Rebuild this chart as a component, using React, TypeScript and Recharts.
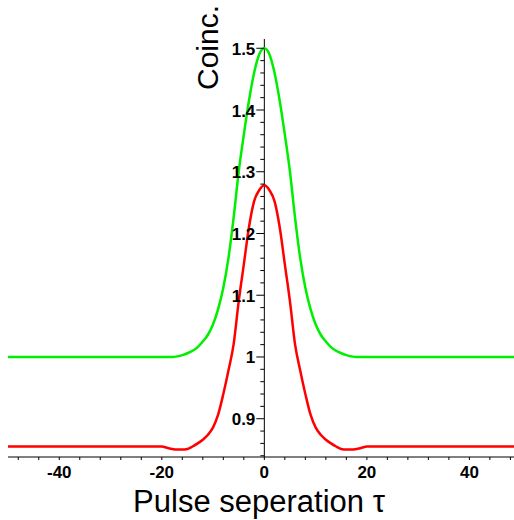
import React from 'react';
import { LineChart, Line, XAxis, YAxis, ReferenceLine, ReferenceDot } from 'recharts';

// Pulse separation values (x)
const tau = [
  -50, -20, -19, -18, -17, -16, -15, -14, -13, -12, -11, -10, -9, -8, -7, -6, -5, -4, -3, -2, -1,
  0, 1, 2, 3, 4, 5, 6, 7, 8, 9, 10, 11, 12, 13, 14, 15, 16, 17, 18, 19, 20, 50,
];

// Green curve (coincidences)
const greenCoinc = [
  1.0, 1.0, 1.0, 1.0, 1.001, 1.003, 1.006, 1.01, 1.016, 1.025, 1.036, 1.053, 1.078, 1.112, 1.16, 1.225, 1.3, 1.36, 1.415, 1.46, 1.49,
  1.5, 1.49, 1.46, 1.415, 1.36, 1.3, 1.225, 1.16, 1.112, 1.078, 1.053, 1.036, 1.025, 1.016, 1.01, 1.006, 1.003, 1.001, 1.0, 1.0, 1.0, 1.0,
];

// Red curve (coincidences)
const redCoinc = [
  0.855, 0.855, 0.853, 0.851, 0.85, 0.85, 0.851, 0.855, 0.86, 0.866, 0.874, 0.886, 0.907, 0.94, 0.978, 1.02, 1.09, 1.15, 1.21, 1.252, 1.27,
  1.278, 1.27, 1.252, 1.21, 1.15, 1.09, 1.02, 0.978, 0.94, 0.907, 0.886, 0.874, 0.866, 0.86, 0.855, 0.851, 0.85, 0.85, 0.851, 0.853, 0.855, 0.855,
];

const xTicks = [-48, -44, -40, -36, -32, -28, -24, -20, -16, -12, -8, -4, 0, 4, 8, 12, 16, 20, 24, 28, 32, 36, 40, 44, 48];
const xTickLabels = [-40, -20, 0, 20, 40];

const yMinorTicks = [
  0.84, 0.86, 0.88, 0.92, 0.94, 0.96, 0.98, 1.02, 1.04, 1.06, 1.08, 1.12, 1.14, 1.16, 1.18,
  1.22, 1.24, 1.26, 1.28, 1.32, 1.34, 1.36, 1.38, 1.42, 1.44, 1.46, 1.48,
];
const yMajorTicks = [0.9, 1.0, 1.1, 1.2, 1.3, 1.4, 1.5];
const yMajorLabels = ['0.9', '1', '1.1', '1.2', '1.3', '1.4', '1.5'];

const xTitle = 'Pulse seperation τ';
const yTitle = 'Coinc.';

const data = tau.map((t, i) => ({ tau: t, green: greenCoinc[i], red: redCoinc[i] }));

const FONT = '"Liberation Sans", Arial, Helvetica, sans-serif';

const renderXTick = (props: any) => {
  const { x, y, payload } = props;
  if (!xTickLabels.includes(payload.value)) return <g />;
  return (
    <text x={x} y={y} dy={16} textAnchor="middle" fontFamily={FONT} fontWeight="bold" fontSize={17} fill="#000">
      {String(payload.value)}
    </text>
  );
};

const yTickShape = (len: number, label?: string) => (props: any) => {
  const { cx, cy } = props;
  return (
    <g>
      <line x1={cx - len} y1={cy} x2={cx} y2={cy} stroke="#000" strokeWidth={1} />
      {label ? (
        <text x={cx - 9} y={cy} dy={6.5} textAnchor="end" fontFamily={FONT} fontWeight="bold" fontSize={17} fill="#000">
          {label}
        </text>
      ) : null}
    </g>
  );
};

export default function App() {
  return (
    <div style={{ position: 'absolute', left: 0, top: 0, width: 514, height: 520, background: '#fff' }}>
      <LineChart width={514} height={520} data={data} margin={{ top: 39, right: 0, left: 8, bottom: 33 }}>
        <XAxis
          dataKey="tau"
          type="number"
          domain={[-50, 48.7]}
          allowDataOverflow
          ticks={xTicks}
          interval={0}
          tickSize={3}
          tickLine={{ stroke: '#000' }}
          axisLine={{ stroke: '#000' }}
          tick={renderXTick}
          height={30}
        />
        <YAxis hide type="number" domain={[0.838, 1.515]} allowDataOverflow />
        <ReferenceLine x={0} stroke="#000" strokeWidth={1} />
        {yMinorTicks.map((v) => (
          <ReferenceDot key={'m' + v} x={0} y={v} shape={yTickShape(4)} />
        ))}
        {yMajorTicks.map((v, i) => (
          <ReferenceDot key={'M' + v} x={0} y={v} shape={yTickShape(8, yMajorLabels[i])} />
        ))}
        <Line type="monotone" dataKey="green" stroke="#00ee00" strokeWidth={2.5} dot={false} isAnimationActive={false} />
        <Line type="monotone" dataKey="red" stroke="#ff0000" strokeWidth={2.5} dot={false} isAnimationActive={false} />
      </LineChart>
      <svg width={514} height={520} style={{ position: 'absolute', left: 0, top: 0, pointerEvents: 'none' }}>
        <text x={259} y={512} textAnchor="middle" fontFamily={FONT} fontSize={31} fill="#000">
          {xTitle}
        </text>
        <text transform="translate(218,47.5) rotate(-90)" textAnchor="middle" fontFamily={FONT} fontSize={30} fill="#000">
          {yTitle}
        </text>
      </svg>
    </div>
  );
}
